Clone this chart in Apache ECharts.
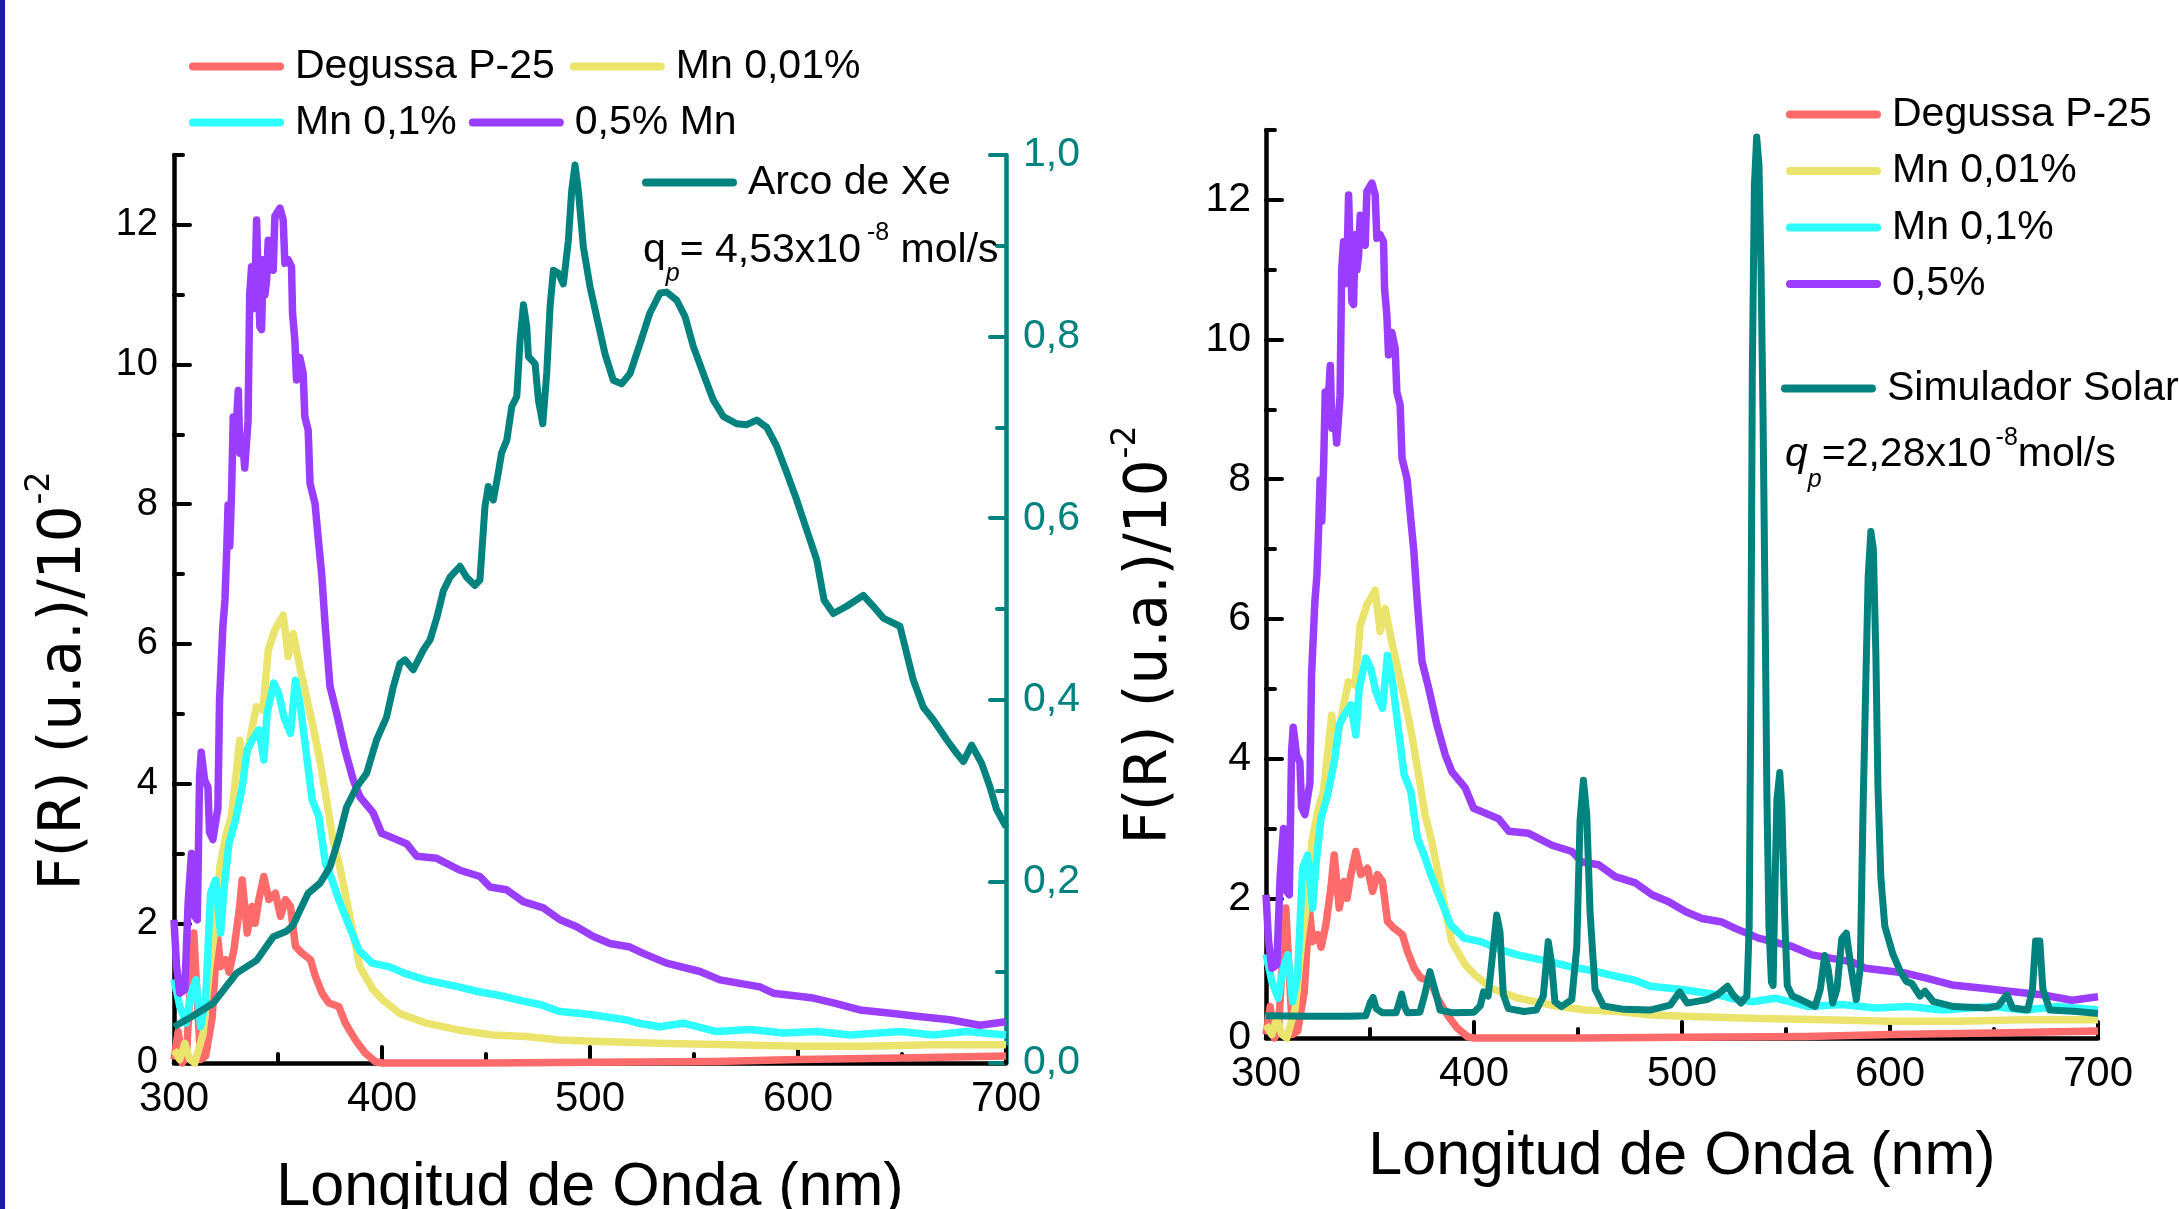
<!DOCTYPE html>
<html>
<head>
<meta charset="utf-8">
<script src="https://cdn.jsdelivr.net/npm/echarts@6/dist/echarts.min.js"></script>
<style>
  html, body { margin: 0; padding: 0; background: #ffffff; }
  #chart { width: 2179px; height: 1209px; }
</style>
</head>
<body>
<div id="chart"></div>
<script>
// ---- axis ranges and tick labels ----
const waveRange = [300, 700];
const waveLabels = [300, 400, 500, 600, 700];
const frRange = [0, 13];
const frLabels = [0, 2, 4, 6, 8, 10, 12];
const xeRange = [0, 1];
const xeLabels = [0, 0.2, 0.4, 0.6, 0.8, 1.0];

// ---- Kubelka-Munk F(R) spectra, [wavelength nm, F(R)/10^-2] ----
const degussaP25 = [
  [300,0.05],[302,0.45],[304,0.0],[306,0.1],[308,1.2],[309.5,1.86],[311.2,0.9],[312.8,0.05],
  [315.2,0.1],[318.4,0.66],[320.8,1.86],[322.4,1.38],[324.8,1.48],[326.5,1.3],[328.8,1.62],
  [331.2,2.15],[332.8,2.62],[335.2,1.86],[337.6,2.24],[339,2.0],[340.8,2.34],[343.2,2.67],
  [345.6,2.34],[348.8,2.43],[351.2,2.1],[353.6,2.34],[356,2.24],[358.4,1.67],[361.6,1.57],
  [365.6,1.48],[368,1.24],[371.2,1.0],[374.4,0.86],[379.2,0.81],[382.4,0.57],[387.2,0.33],
  [392,0.14],[396.8,0.02],[400,0],[450,0],[500,0.01],[560,0.02],[600,0.05],[650,0.07],[700,0.1]
];
const mn001 = [
  [300,0.19],[302.8,0.05],[305.2,0.28],[307.6,0.05],[310,0.0],[314,0.42],[317.2,1.38],
  [320.4,2.09],[322,2.81],[325.2,3.29],[327.6,3.53],[331.6,4.62],[333.2,4.15],[336.4,4.62],
  [339.6,5.1],[342.8,5.05],[345.3,5.91],[348.5,6.2],[352.5,6.41],[354.9,5.82],[357.3,6.15],
  [360.5,5.67],[363.7,5.24],[366.9,4.81],[370.1,4.34],[373.3,3.77],[376.5,3.19],[379.7,2.81],
  [382.9,2.34],[386.1,1.86],[389.3,1.38],[395.7,1.05],[400.5,0.9],[408.5,0.71],[421.3,0.57],
  [437.3,0.47],[453.4,0.4],[469.4,0.38],[485.4,0.33],[501.4,0.31],[537,0.28],[569,0.26],
  [601,0.24],[633,0.24],[665,0.26],[700,0.26]
];
const mn01 = [
  [300,1.2],[302.8,0.81],[305.9,0.57],[308.2,1.0],[310.5,1.19],[312.8,0.52],[315.2,0.9],
  [317.6,2.43],[320,2.62],[322.4,1.86],[324,2.48],[326.4,3.14],[329.6,3.48],[332.8,3.95],
  [335.2,4.48],[337.6,4.62],[340.8,4.77],[343.2,4.34],[344.8,5.01],[348,5.44],[350.4,5.29],
  [352.8,4.96],[356,4.72],[358.4,5.48],[360.8,5.1],[363.2,4.53],[366.4,3.77],[369.6,3.53],
  [372.8,2.86],[376,2.62],[379.2,2.34],[382.4,2.1],[385.6,1.86],[388.8,1.62],[395.2,1.43],
  [403.3,1.38],[411.3,1.28],[420.9,1.19],[428.9,1.14],[436.9,1.09],[446.5,1.02],[456.1,0.97],
  [468.9,0.88],[476.9,0.83],[484.9,0.74],[500.9,0.69],[516.9,0.62],[523.4,0.57],[533.7,0.52],
  [544.9,0.57],[560.9,0.45],[577,0.48],[593,0.43],[609,0.45],[625,0.40],[649,0.45],[665,0.40],
  [681,0.45],[700,0.40]
];
const mn05 = [
  [300,2.05],[301.2,1.4],[302.8,1.0],[305.2,1.05],[306.8,2.3],[308.4,3.0],[310,2.1],[311.2,2.05],
  [312.3,4.1],[313.1,4.45],[314.7,4.05],[316.3,3.95],[317.1,3.3],[318.7,3.2],[321.1,3.65],
  [321.9,5.2],[323.5,6.25],[324.5,6.63],[325.3,7.3],[326,7.99],[326.8,7.4],[327.7,8.2],
  [328.5,9.25],[329.7,9.0],[330.9,9.63],[331.7,8.73],[333,8.9],[334,8.52],[335.6,9.2],
  [336.4,11.0],[337.3,11.4],[338.1,10.8],[338.9,11.0],[339.7,12.07],[340.5,11.2],[341.3,10.54],
  [342.1,10.5],[342.9,11.5],[343.7,11.0],[344.5,11.2],[345.3,11.78],[346.5,11.5],[347.7,11.35],
  [348.5,12.12],[350.9,12.24],[352.5,12.07],[353.3,11.45],[354.9,11.5],[356.5,11.4],[357,10.73],
  [358.1,10.35],[358.9,9.78],[360.5,10.1],[362.1,9.87],[362.9,9.25],[364.5,9.06],[365.4,8.3],
  [367.8,8.01],[369.4,7.49],[371,7.0],[372.6,6.3],[375,5.39],[378.2,5.01],[382.2,4.48],
  [386.2,4.05],[389.4,3.81],[395.8,3.58],[399.8,3.29],[405.4,3.22],[411.8,3.14],[416.7,2.96],
  [426.3,2.93],[437.5,2.76],[447.1,2.67],[451.9,2.52],[459.9,2.48],[467.9,2.31],[477.6,2.22],
  [485.6,2.05],[493.6,1.95],[501.6,1.81],[509.6,1.71],[519.2,1.66],[525.6,1.57],[536.8,1.43],
  [552.9,1.31],[562.5,1.19],[581.7,1.09],[588.1,1.0],[607.4,0.93],[617,0.86],[629.8,0.76],
  [645.8,0.71],[657,0.67],[673,0.62],[687.5,0.54],[700,0.59]
];

// ---- lamp emission spectra ----
// Xe arc lamp, relative units (right-hand axis)
const arcoXe = [
  [300,0.04],[309.3,0.052],[318.9,0.066],[330.1,0.099],[339.7,0.113],[347.7,0.139],[354.1,0.145],
  [357.3,0.152],[360.5,0.168],[364.5,0.187],[370.2,0.198],[375,0.216],[379,0.246],[383,0.282],
  [387.8,0.304],[392.6,0.319],[397.4,0.356],[402.2,0.381],[405.4,0.414],[408.6,0.44],[411,0.444],
  [415,0.433],[419.9,0.455],[423.1,0.466],[426.3,0.49],[429.5,0.52],[432.7,0.535],[437.5,0.547],
  [440.7,0.535],[444.7,0.526],[447.1,0.532],[449.5,0.613],[451.1,0.635],[453.5,0.62],[455.9,0.65],
  [457.5,0.672],[460,0.686],[462.4,0.723],[464.8,0.734],[466.4,0.796],[468,0.835],[469.6,0.811],
  [470.4,0.778],[473.6,0.77],[475.2,0.73],[477.3,0.704],[479.2,0.76],[480.8,0.833],[482.4,0.873],
  [484.8,0.87],[487.2,0.858],[489.6,0.906],[491.2,0.961],[492.8,0.989],[494.4,0.961],[496.8,0.899],
  [500,0.855],[503.2,0.822],[507.2,0.781],[511.2,0.752],[515.2,0.748],[519.2,0.759],[524,0.792],
  [528.8,0.826],[533.7,0.848],[536.9,0.849],[541.7,0.84],[545.7,0.822],[549.7,0.789],[554.5,0.759],
  [559.3,0.73],[564.1,0.712],[570.5,0.704],[575.3,0.703],[580.2,0.708],[585,0.7],[589.8,0.679],
  [594.6,0.65],[599.4,0.62],[604.2,0.587],[609,0.554],[612.5,0.51],[617,0.495],[623.4,0.503],
  [631.4,0.515],[636.2,0.503],[641,0.49],[649,0.481],[651.4,0.459],[655.4,0.422],[660.2,0.392],
  [665,0.378],[671.5,0.356],[676.3,0.341],[679.5,0.332],[683.5,0.35],[688.3,0.33],[692.3,0.304],
  [695.5,0.279],[700,0.26]
];
// solar simulator, drawn on the F(R) scale
const simuladorSolar = [
  [300,0.32],[320,0.31],[340,0.31],[348,0.32],[350.3,0.52],[351.5,0.58],[353,0.42],[356,0.36],
  [362.5,0.36],[364,0.5],[365.2,0.63],[366.6,0.45],[368,0.36],[374,0.37],[376.3,0.62],[378.8,0.95],
  [381.3,0.68],[383.7,0.4],[390,0.36],[400,0.37],[403,0.46],[404.6,0.66],[406.8,0.6],[409.3,1.3],
  [410.9,1.76],[412.5,1.52],[414.1,0.62],[416.5,0.42],[424,0.38],[430,0.4],[433.3,0.6],[435.7,1.38],
  [437.3,1.07],[438.9,0.52],[442,0.45],[447,0.55],[449.4,1.3],[451,3.12],[452.6,3.69],[454.2,3.2],
  [455.8,1.8],[458.2,0.7],[462.2,0.46],[472,0.41],[484.6,0.4],[494.3,0.47],[498.9,0.66],[502.5,0.5],
  [512,0.55],[517,0.62],[521.9,0.74],[524.5,0.62],[528.4,0.5],[531.2,0.6],[532.3,1.6],[533,4.5],
  [533.8,9.5],[534.8,12.2],[535.9,12.9],[537,12.5],[538,11.0],[539,8.8],[540,6.0],[540.8,3.5],
  [541.8,1.6],[543,0.8],[543.8,0.75],[544.6,2.0],[545.6,3.4],[547,3.8],[548,3.3],[549.3,1.8],
  [550.6,0.75],[553,0.6],[557,0.55],[564,0.45],[566.5,0.7],[568.6,1.18],[570.2,1.0],[572.5,0.5],
  [574.5,0.7],[576.8,1.42],[579,1.5],[581.3,1.0],[583.8,0.55],[585.7,1.0],[587,3.2],[588.3,5.0],
  [589.5,6.6],[590.8,7.25],[592,7.0],[593.2,5.5],[594.2,3.6],[595.6,2.3],[597.5,1.6],[601.4,1.2],
  [605,0.95],[607.9,0.81],[610.5,0.78],[614.4,0.6],[616.8,0.67],[620.9,0.52],[630.6,0.45],
  [646.8,0.43],[652,0.46],[656.2,0.62],[658.9,0.43],[666.2,0.4],[668.5,0.7],[670,1.39],[672,1.39],
  [673.5,0.7],[676.8,0.4],[690,0.38],[700,0.35]
];

// ---- styling ----
const FONT = '"Liberation Sans", Arial, Helvetica, sans-serif';
const TITLE_FONT = '"DejaVu Sans", Verdana, sans-serif';
const TEAL = '#00837f';
const C = { red: '#ff6b6b', yellow: '#ebe46c', cyan: '#2efdfd', purple: '#9b3dff', teal: TEAL };
const CAPSULE = 'path://M4,0L91,0A4,4,0,0,1,91,8L4,8A4,4,0,0,1,4,0Z';

const LEFT_PLOT = { left: 174, top: 155, width: 832, height: 908 };
const RIGHT_PLOT = { left: 1266, top: 130, width: 832, height: 908 };

const commaNum = v => v.toFixed(1).replace('.', ',');

// short (minor) ticks on every sub-step, long ticks on the labelled values
function minorAxis(grid, range, interval, position, color) {
  return {
    type: 'value', gridIndex: grid, min: range[0], max: range[1], interval: interval,
    position: position,
    axisLine: { show: true, onZero: false, lineStyle: { color: color, width: 4.5 } },
    axisTick: { show: true, inside: true, length: 9, lineStyle: { color: color, width: 4, cap: 'round' } },
    axisLabel: { show: false },
    splitLine: { show: false }
  };
}
function majorAxis(grid, range, labels, position, color, fontSize, margin, fmt) {
  return {
    type: 'value', gridIndex: grid, min: range[0], max: range[1],
    position: position,
    axisLine: { show: false, onZero: false },
    axisTick: { show: true, inside: true, length: 16, customValues: labels,
                lineStyle: { color: color, width: 4, cap: 'round' } },
    axisLabel: { show: true, customValues: labels, color: color, fontSize: fontSize,
                 fontFamily: FONT, margin: margin, formatter: fmt || (v => String(v)) },
    splitLine: { show: false }
  };
}

function lineSeries(name, data, color, xi, yi, width) {
  return {
    type: 'line', name: name, data: data, xAxisIndex: xi, yAxisIndex: yi,
    showSymbol: false, symbol: 'none', smooth: false, clip: false,
    color: color, lineStyle: { color: color, width: width || 7.5, join: 'round' },
    emphasis: { disabled: true }, silent: true
  };
}

// ---- text helpers (sub/superscripts placed by measured widths) ----
const measureCtx = document.createElement('canvas').getContext('2d');
function textWidth(text, size, family, italic) {
  measureCtx.font = (italic ? 'italic ' : '') + size + 'px ' + family;
  return measureCtx.measureText(text).width;
}
function textRun(parts, x0, baseline, color) {
  const out = [];
  let x = x0;
  parts.forEach(p => {
    const fam = p.family || FONT;
    out.push({
      type: 'text', x: x, y: baseline + (p.dy || 0) - 0.3465 * p.size, z: 100,
      style: { text: p.text, fill: color || '#000', fontSize: p.size, fontFamily: fam,
               fontStyle: p.italic ? 'italic' : 'normal', align: 'left', verticalAlign: 'middle' }
    });
    x += textWidth(p.text, p.size, fam, p.italic) + (p.gap || 0);
  });
  return out;
}
function yTitle(cx, cy) {
  const main = 'F(R) (u.a.)/10';
  const size = 58;
  const w = textWidth(main, size, TITLE_FONT, false);
  return {
    type: 'group', x: cx, y: cy, rotation: Math.PI / 2, z: 100,
    children: [
      { type: 'text', x: -w / 2, y: 0,
        style: { text: main, fill: '#000', fontSize: size, fontFamily: TITLE_FONT, align: 'left', verticalAlign: 'middle' } },
      { type: 'text', x: w / 2 + 1, y: -25,
        style: { text: '-2', fill: '#000', fontSize: 33, fontFamily: TITLE_FONT, align: 'left', verticalAlign: 'middle' } }
    ]
  };
}
function xTitle(cx, cy) {
  return { type: 'text', x: cx, y: cy, z: 100,
    style: { text: 'Longitud de Onda (nm)', fill: '#000', fontSize: 61, fontFamily: FONT, align: 'center', verticalAlign: 'middle' } };
}

const legendBase = {
  padding: 0, itemWidth: 95, itemHeight: 8, icon: CAPSULE, selectedMode: false,
  itemStyle: { borderWidth: 0 },
  textStyle: { fontSize: 41, color: '#000', fontFamily: FONT, padding: [0, 0, 0, 6] }
};

const chart = echarts.init(document.getElementById('chart'), null, { renderer: 'canvas' });
chart.setOption({
  animation: false,
  backgroundColor: '#ffffff',
  textStyle: { fontFamily: FONT },
  grid: [
    Object.assign({}, LEFT_PLOT), Object.assign({}, LEFT_PLOT),
    Object.assign({}, RIGHT_PLOT), Object.assign({}, RIGHT_PLOT)
  ],
  xAxis: [
    minorAxis(0, waveRange, 50, 'bottom', '#000'),
    majorAxis(1, waveRange, waveLabels, 'bottom', '#000', 42, 15),
    minorAxis(2, waveRange, 50, 'bottom', '#000'),
    majorAxis(3, waveRange, waveLabels, 'bottom', '#000', 42, 15)
  ],
  yAxis: [
    minorAxis(0, frRange, 1, 'left', '#000'),
    minorAxis(0, xeRange, 0.1, 'right', TEAL),
    majorAxis(1, frRange, frLabels, 'left', '#000', 38, 16),
    majorAxis(1, xeRange, xeLabels, 'right', TEAL, 41, 17, commaNum),
    minorAxis(2, frRange, 1, 'left', '#000'),
    majorAxis(3, frRange, frLabels, 'left', '#000', 41, 15)
  ],
  legend: [
    Object.assign({}, legendBase, { left: 189, top: 46, itemGap: 15, data: ['Degussa P-25', 'Mn 0,01%'] }),
    Object.assign({}, legendBase, { left: 189, top: 102, itemGap: 12, data: ['Mn 0,1%', '0,5% Mn'] }),
    Object.assign({}, legendBase, { left: 642, top: 162, data: ['Arco de Xe'] }),
    Object.assign({}, legendBase, { left: 1786, top: 94, orient: 'vertical', itemGap: 15.5,
                                    data: ['Degussa P-25', 'Mn 0,01%', 'Mn 0,1%', '0,5%'] }),
    Object.assign({}, legendBase, { left: 1781, top: 368, itemHeight: 10, data: ['Simulador Solar'] })
  ],
  series: [
    lineSeries('Degussa P-25', degussaP25, C.red, 0, 0),
    lineSeries('Mn 0,01%', mn001, C.yellow, 0, 0),
    lineSeries('Mn 0,1%', mn01, C.cyan, 0, 0),
    lineSeries('0,5% Mn', mn05, C.purple, 0, 0),
    lineSeries('Arco de Xe', arcoXe, C.teal, 0, 1, 7),
    lineSeries('Degussa P-25', degussaP25, C.red, 2, 4),
    lineSeries('Mn 0,01%', mn001, C.yellow, 2, 4),
    lineSeries('Mn 0,1%', mn01, C.cyan, 2, 4),
    lineSeries('0,5%', mn05, C.purple, 2, 4),
    lineSeries('Simulador Solar', simuladorSolar, C.teal, 2, 4, 7)
  ],
  graphic: [
    { type: 'rect', shape: { x: 0, y: 0, width: 5, height: 1209 }, style: { fill: '#1c1ca8' }, z: 100 },
    yTitle(65, 698),
    yTitle(1151, 652),
    xTitle(590, 1188),
    xTitle(1682, 1157)
  ]
  .concat(textRun([
    { text: 'q', size: 41 },
    { text: 'p', size: 25, italic: true, dy: 18 },
    { text: '= 4,53x10', size: 41, gap: 6 },
    { text: '-8', size: 25, dy: -23 },
    { text: ' mol/s', size: 41 }
  ], 643, 265))
  .concat(textRun([
    { text: 'q', size: 41, italic: true },
    { text: 'p', size: 25, italic: true, dy: 20 },
    { text: '=2,28x10', size: 41, gap: 4 },
    { text: '-8', size: 25, dy: -22 },
    { text: 'mol/s', size: 41 }
  ], 1785, 469))
});
</script>
</body>
</html>
